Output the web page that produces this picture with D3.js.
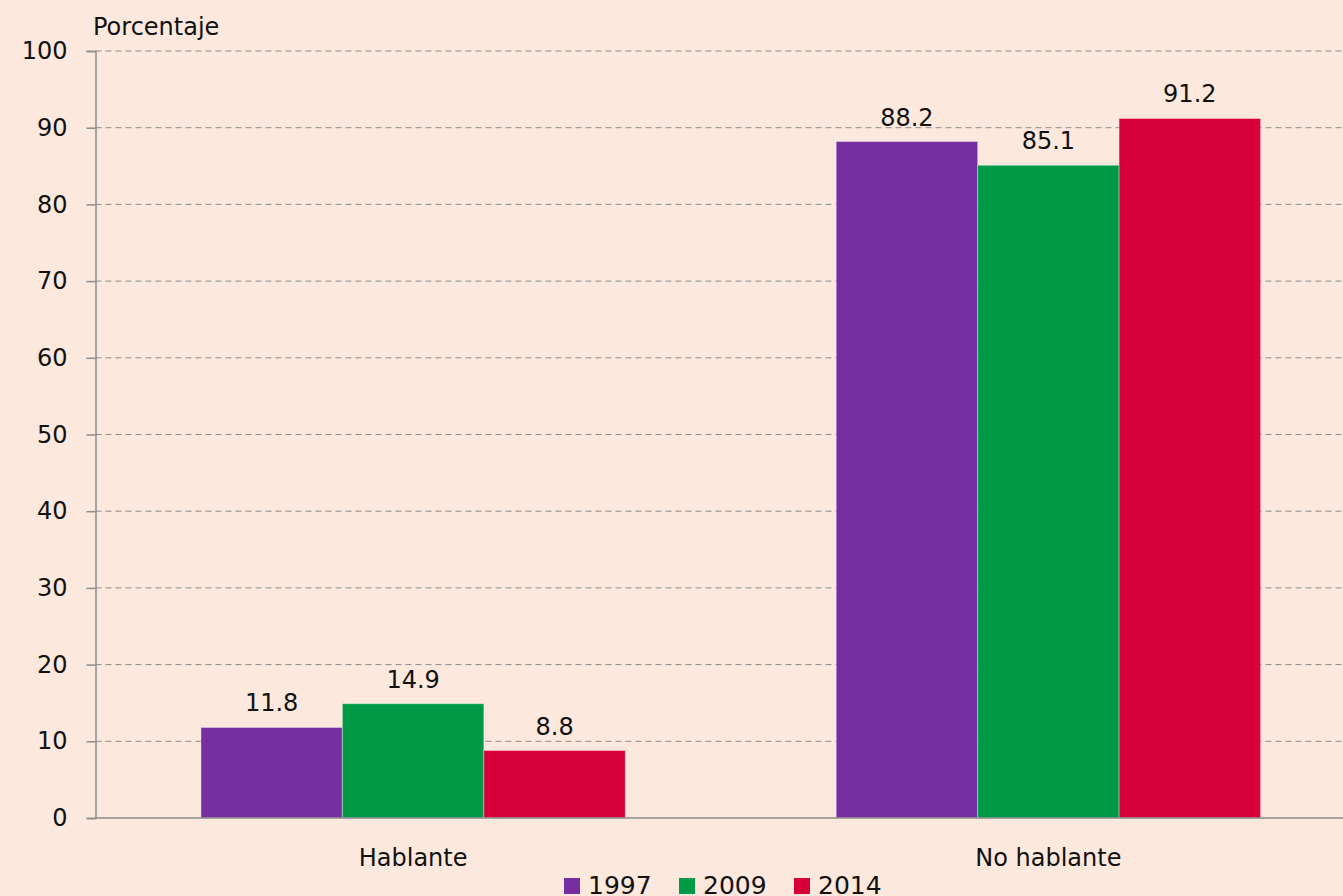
<!DOCTYPE html>
<html>
<head>
<meta charset="utf-8">
<script src="https://cdn.jsdelivr.net/npm/d3@7"></script>
<style>
  body { margin: 0; background: #fce8dc; }
  svg { display: block; font-family: "DejaVu Sans", sans-serif; }
</style>
</head>
<body>
<div id="vis"></div>
<script>
// chart data
var categories = ["Hablante", "No hablante"];
var years = ["1997", "2009", "2014"];
var values1997 = [11.8, 88.2];
var values2009 = [14.9, 85.1];
var values2014 = [8.8, 91.2];
var colors = ["#762ea0", "#009a47", "#d70039"];
var yTicks = [0, 10, 20, 30, 40, 50, 60, 70, 80, 90, 100];

var series = [values1997, values2009, values2014];

var W = 1343, H = 896;
var margin = { top: 51, right: -23, bottom: 78, left: 95.5 };
var width = W - margin.left - margin.right;
var height = H - margin.top - margin.bottom;
var fontSize = 24;

var svg = d3.select("#vis").append("svg")
  .attr("width", W).attr("height", H);

var g = svg.append("g")
  .attr("transform", `translate(${margin.left}, ${margin.top})`);

var x = d3.scaleBand().domain(categories).range([0, width]).paddingInner(0).paddingOuter(0);
var xi = d3.scaleBand().domain(years).range([0, x.bandwidth() * 0.668]);
var groupOffset = (x.bandwidth() - xi.range()[1]) / 2;
var y = d3.scaleLinear().domain([0, 100]).range([height, 0]);

// gridlines
g.selectAll(".grid").data(yTicks.filter(d => d > 0)).enter().append("line")
  .attr("x1", 0).attr("x2", width)
  .attr("y1", d => y(d)).attr("y2", d => y(d))
  .attr("stroke", "#8c8c8c").attr("stroke-dasharray", "6,4").attr("stroke-width", 1);

// y axis
var yAxis = g.append("g").call(d3.axisLeft(y).tickValues(yTicks).tickSize(9).tickPadding(19));
yAxis.select(".domain").attr("stroke", "#8c8c8c").attr("stroke-width", 1.5);
yAxis.selectAll(".tick line").attr("stroke", "#8c8c8c").attr("stroke-width", 1.5);
yAxis.selectAll("text").attr("font-size", fontSize).attr("fill", "#111").attr("font-family", "DejaVu Sans, sans-serif");

// bars
var rows = [];
categories.forEach((c, i) => {
  years.forEach((yr, j) => rows.push({ cat: c, year: yr, value: series[j][i], color: colors[j] }));
});

g.selectAll("rect.bar").data(rows).enter().append("rect")
  .attr("class", "bar")
  .attr("x", d => x(d.cat) + groupOffset + xi(d.year))
  .attr("width", xi.bandwidth())
  .attr("y", d => y(d.value))
  .attr("height", d => y(0) - y(d.value))
  .attr("fill", d => d.color)
  .attr("stroke", "rgba(255,255,255,0.35)")
  .attr("stroke-width", 1);

g.selectAll("text.val").data(rows).enter().append("text")
  .attr("x", d => x(d.cat) + groupOffset + xi(d.year) + xi.bandwidth() / 2)
  .attr("y", d => y(d.value) - 16)
  .attr("text-anchor", "middle")
  .attr("font-size", fontSize)
  .attr("fill", "#111")
  .text(d => d.value.toFixed(1));

// baseline
g.append("line").attr("x1", 0).attr("x2", width).attr("y1", y(0)).attr("y2", y(0))
  .attr("stroke", "#8c8c8c").attr("stroke-width", 1.5);

// category labels
g.selectAll("text.cat").data(categories).enter().append("text")
  .attr("x", d => x(d) + x.bandwidth() / 2)
  .attr("y", height + 48)
  .attr("text-anchor", "middle")
  .attr("font-size", fontSize)
  .attr("fill", "#111")
  .text(d => d);

// axis title
svg.append("text").attr("x", 93).attr("y", 35)
  .attr("font-size", fontSize).attr("fill", "#111").text("Porcentaje");

// legend
var legendX = [564, 679, 794];
var legend = svg.selectAll("g.leg").data(years).enter().append("g")
  .attr("transform", (d, i) => `translate(${legendX[i]}, 878)`);
legend.append("rect").attr("width", 16).attr("height", 16).attr("fill", (d, i) => colors[i]);
legend.append("text").attr("x", 24).attr("y", 16).attr("font-size", 25).attr("fill", "#111").text(d => d);
</script>
</body>
</html>
